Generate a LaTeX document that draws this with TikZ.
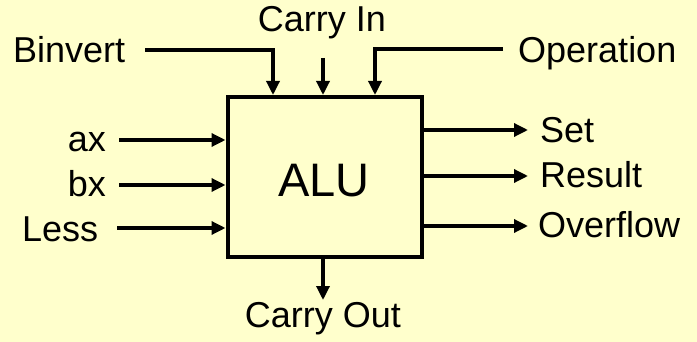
\documentclass[tikz,border=0pt]{standalone}
\usepackage{fontspec}
\setmainfont{Liberation Sans}
\usetikzlibrary{arrows.meta}
\definecolor{bg}{RGB}{255,255,204}
\tikzset{
  lbl/.style={inner sep=0pt, font=\fontsize{36}{40}\selectfont},
  wire/.style={line width=3.3pt, -{Triangle[length=14pt,width=13pt]}},
  alubox/.style={draw, line width=4pt, minimum width=194pt, minimum height=160pt, inner sep=0pt}
}
\begin{document}
\begin{tikzpicture}[x=1pt,y=-1pt]
\fill[bg] (0,0) rectangle (697,342);
\useasboundingbox (0,0) rectangle (697,342);
\node[alubox] (alu) at (324.5,177) {};
\node[inner sep=0pt, anchor=base, font=\fontsize{47}{52}\selectfont] (alulbl) at (324,197) {ALU};
% labels
\node[lbl, anchor=base west] (binv) at (13,63) {Binvert};
\node[lbl, anchor=base] (cin) at (322,32) {Carry In};
\node[lbl, anchor=base west] (op) at (518,63) {Operation};
\node[lbl, anchor=base east] (ax) at (106,152) {ax};
\node[lbl, anchor=base east] (bx) at (106,197) {bx};
\node[lbl, anchor=base west] (less) at (22,242) {Less};
\node[lbl, anchor=base west] (set) at (540,143) {Set};
\node[lbl, anchor=base west] (res) at (540,188) {Result};
\node[lbl, anchor=base west] (ovf) at (538,237) {Overflow};
\node[lbl, anchor=base] (cout) at (323,327) {Carry Out};
% connector coordinates
\coordinate (binvs) at (145,50);
\coordinate (binvk) at (273,50);
\coordinate (cins) at (323,58);
\coordinate (ops) at (503,49);
\coordinate (opk) at (375,49);
\coordinate (axs) at (119,140);
\coordinate (bxs) at (119,185);
\coordinate (lesss) at (117,228);
\coordinate (sete) at (528,130);
\coordinate (rese) at (528,176);
\coordinate (ovfe) at (528,226);
\coordinate (coute) at (323,300);
% connectors
\draw[wire] (binvs) -- (binvk) -- (binvk |- alu.north);
\draw[wire] (cins) -- (cins |- alu.north);
\draw[wire] (ops) -- (opk) -- (opk |- alu.north);
\draw[wire] (axs) -- (axs -| alu.west);
\draw[wire] (bxs) -- (bxs -| alu.west);
\draw[wire] (lesss) -- (lesss -| alu.west);
\draw[wire] (sete -| alu.east) -- (sete);
\draw[wire] (rese -| alu.east) -- (rese);
\draw[wire] (ovfe -| alu.east) -- (ovfe);
\draw[wire] (coute |- alu.south) -- (coute);
\end{tikzpicture}
\end{document}
